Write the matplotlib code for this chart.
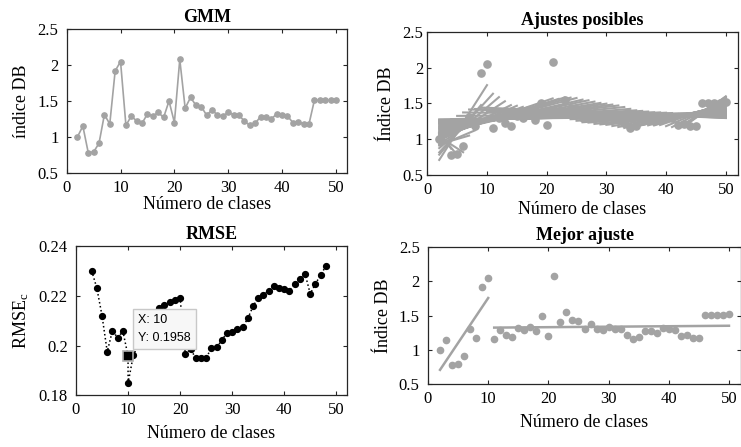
import numpy as np
import matplotlib

matplotlib.use("Agg")

import matplotlib.pyplot as plt

plt.rcParams["font.family"] = ["Liberation Serif", "DejaVu Serif"]
plt.rcParams["mathtext.fontset"] = "custom"
plt.rcParams["mathtext.rm"] = "Liberation Serif"
plt.rcParams["mathtext.it"] = "Liberation Serif"

# Davies-Bouldin index per number of clusters (GMM)
clases = list(range(2, 51))
indice_db = [1.00, 1.15, 0.78, 0.79, 0.91, 1.31, 1.18, 1.92, 2.05, 1.16,
             1.29, 1.22, 1.19, 1.32, 1.29, 1.34, 1.27, 1.50, 1.20, 2.08,
             1.40, 1.55, 1.44, 1.42, 1.30, 1.38, 1.30, 1.29, 1.34, 1.31,
             1.30, 1.22, 1.16, 1.19, 1.28, 1.27, 1.25, 1.32, 1.30, 1.29,
             1.20, 1.21, 1.18, 1.18, 1.51, 1.51, 1.51, 1.51, 1.52]

# RMSE of the two-segment fit per breakpoint
rmse_k = [3, 4, 5, 6, 7, 8, 9, 10, 10, 11, 12, 13, 14, 15, 16, 17, 18, 19, 20,
          21, 22, 23, 24, 25, 26, 27, 28, 29, 30, 31, 32, 33, 34, 35, 36, 37,
          38, 39, 40, 41, 42, 43, 44, 45, 46, 47, 48]
rmse_c = [0.2301, 0.2231, 0.2120, 0.1975, 0.2060, 0.2031, 0.2058, 0.1958,
          0.1848, 0.1960, 0.2005, 0.2045, 0.2085, 0.2125, 0.2150, 0.2162,
          0.2175, 0.2182, 0.2190, 0.1966, 0.1985, 0.1950, 0.1950, 0.1950,
          0.1990, 0.1993, 0.2021, 0.2051, 0.2055, 0.2067, 0.2073, 0.2109,
          0.2157, 0.2193, 0.2205, 0.2220, 0.2239, 0.2233, 0.2228, 0.2221,
          0.2247, 0.2268, 0.2288, 0.2208, 0.2248, 0.2284, 0.2319]
tip_x, tip_y = 10, 0.1958
mejor_corte = 10

GRIS = "#a3a3a3"
W, H = 741, 447


def ejes(fig, left, top, right, bottom, ypad=6):
    ax = fig.add_axes([left / W, 1 - bottom / H, (right - left) / W, (bottom - top) / H])
    ax.tick_params(direction="in", top=True, right=True, labelsize=12, length=3,
                   color="#262626")
    ax.tick_params(axis="x", pad=5)
    ax.tick_params(axis="y", pad=ypad)
    for s in ax.spines.values():
        s.set_color("#262626")
        s.set_linewidth(0.9)
    ax.set_xlim(0, 52)
    ax.set_xticks([0, 10, 20, 30, 40, 50])
    return ax


def estilo_db(ax, ylabel, xpad):
    ax.set_ylim(0.5, 2.5)
    ax.set_yticks([0.5, 1, 1.5, 2, 2.5])
    ax.set_yticklabels(["0.5", "1", "1.5", "2", "2.5"])
    ax.set_xlabel("Número de clases", fontsize=13, labelpad=xpad)
    ax.set_ylabel(ylabel, fontsize=13, labelpad=5)


def tramos(x, y, corte):
    x = np.asarray(x, float)
    y = np.asarray(y, float)
    res = []
    for m in (x <= corte, x > corte):
        p = np.polyfit(x[m], y[m], 1)
        xs = np.array([x[m].min(), x[m].max()])
        res.append((xs, np.polyval(p, xs)))
    return res


fig = plt.figure(figsize=(W / 100, H / 100), dpi=100)

# GMM
ax = ejes(fig, 66.7, 29.3, 346.7, 172.7)
ax.plot(clases, indice_db, "-o", color=GRIS, lw=1.2, ms=3.8, mec=GRIS, mfc=GRIS)
estilo_db(ax, "índice DB", 0)
ax.set_title("GMM", fontsize=13, fontweight="bold", pad=5)

# Ajustes posibles
ax = ejes(fig, 427.3, 31.7, 737.7, 175, ypad=3)
ax.plot(clases, indice_db, "o", color=GRIS, ms=5.2, zorder=2)
for corte in range(3, 49):
    for xs, ys in tramos(clases, indice_db, corte):
        ax.plot(xs, ys, "-", color=GRIS, lw=1.5, zorder=3)
estilo_db(ax, "Índice DB", 2)
ax.set_title("Ajustes posibles", fontsize=13, fontweight="bold", pad=5)

# RMSE
ax = ejes(fig, 76, 246, 346.7, 395.3)
ax.plot(rmse_k, rmse_c, ":", color="black", lw=1.1)
ax.plot(rmse_k, rmse_c, "o", color="black", ms=4.2)
ax.plot([tip_x], [tip_y], "s", color="black", ms=7.5, mec="#b0b0b0", mew=1.2, zorder=5)
ax.annotate(f"X: {tip_x}\nY: {tip_y}", xy=(tip_x, tip_y), xytext=(10, 12),
            textcoords="offset pixels", fontsize=9, family="Liberation Sans",
            linespacing=1.7, va="bottom", ha="left", zorder=6,
            bbox=dict(boxstyle="square,pad=0.4", fc="#f7f7f7", ec="#c8c8c8", lw=1))
ax.set_ylim(0.18, 0.24)
ax.set_yticks([0.18, 0.2, 0.22, 0.24])
ax.set_yticklabels(["0.18", "0.2", "0.22", "0.24"])
ax.set_xlabel("Número de clases", fontsize=13, labelpad=5)
ax.set_ylabel("RMSE$_{\\mathrm{c}}$", fontsize=13, labelpad=5)
ax.set_title("RMSE", fontsize=13, fontweight="bold", pad=5)

# Mejor ajuste
ax = ejes(fig, 428, 246.7, 741, 384.3)
ax.plot(clases, indice_db, "o", color=GRIS, ms=4.5)
for xs, ys in tramos(clases, indice_db, mejor_corte):
    ax.plot(xs, ys, "-", color=GRIS, lw=1.8)
estilo_db(ax, "Índice DB", 5)
ax.set_title("Mejor ajuste", fontsize=13, fontweight="bold", pad=5)

fig.savefig("out.png", dpi=100)
